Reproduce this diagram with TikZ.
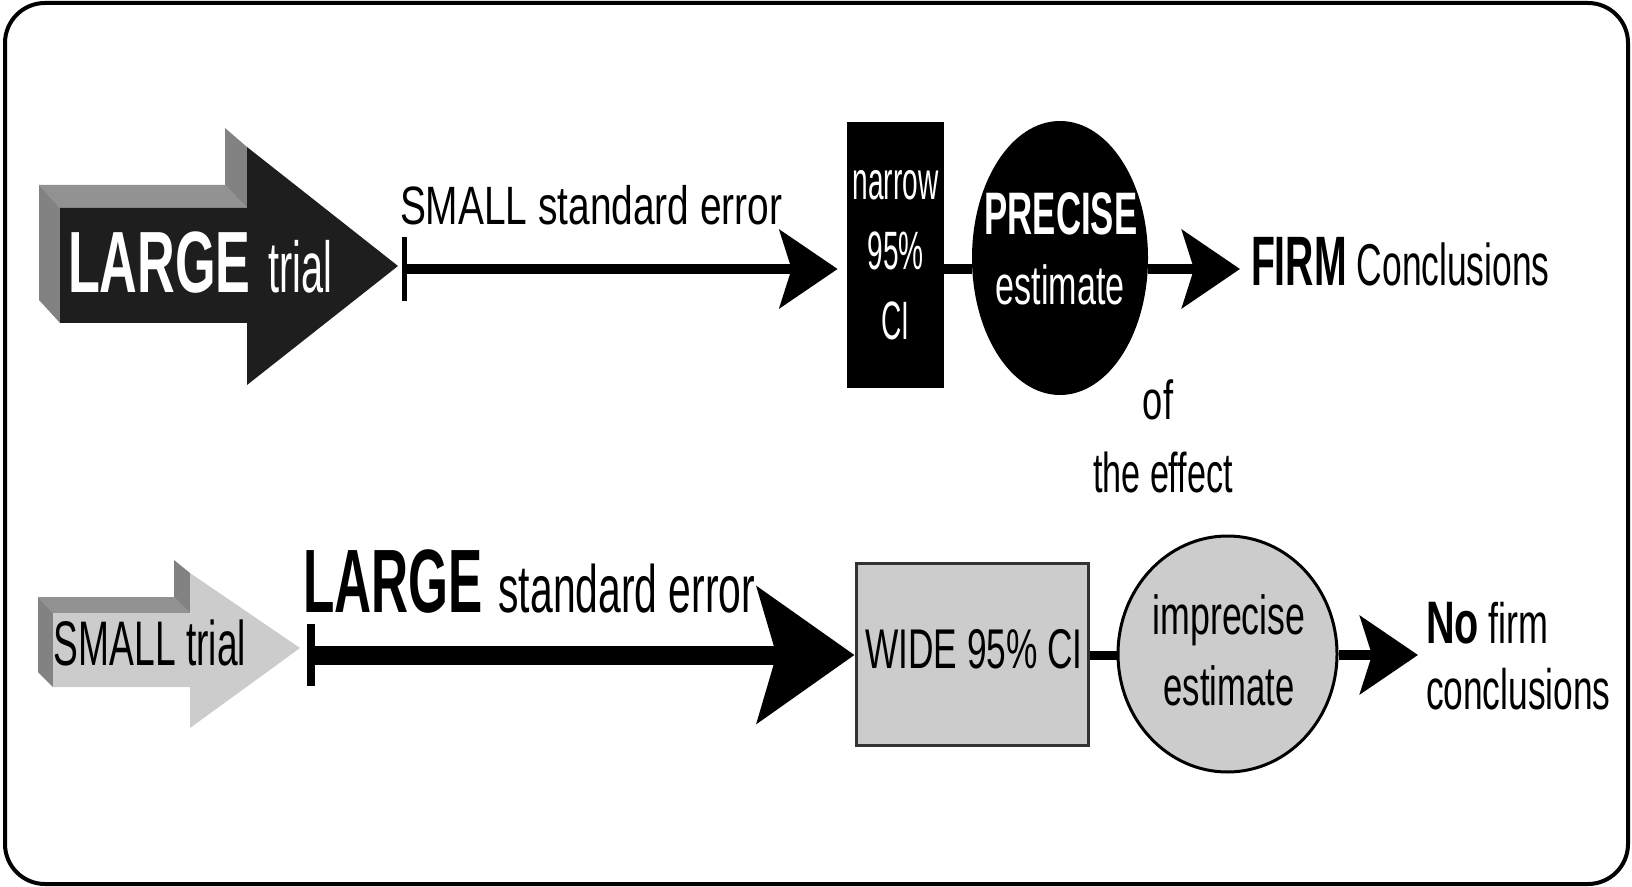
\documentclass[tikz,border=0pt]{standalone}
\usepackage{fontspec}
\usepackage{graphicx}
\setmainfont{Liberation Sans}
\usetikzlibrary{arrows.meta,shapes.geometric,calc}
\newcommand\T[3]{\scalebox{#1}[1]{\fontsize{#2}{#2}\selectfont #3}}
\definecolor{lgrey}{HTML}{CCCCCC}
\definecolor{mgrey}{HTML}{929292}
\definecolor{dgrey}{HTML}{828282}
\definecolor{nearblack}{HTML}{1E1E1E}
\definecolor{boxedge}{HTML}{333333}
\begin{document}
\begin{tikzpicture}[x=0.5pt,y=-0.5pt,
  txt/.style={inner sep=0pt,outer sep=0pt},
  thinbar/.style={line width=5pt},
  bigtip/.style={-{Stealth[length=48.5pt,width=67.5pt,inset=9.5pt]}},
  smalltip/.style={-{Stealth[length=29pt,width=39pt,inset=6pt]}}]
\useasboundingbox (0,0) rectangle (1632,887);
\draw[line width=2pt, rounded corners=20pt] (5,3) rectangle (1628,884);

% LARGE trial arrow (3D)
\fill[mgrey] (39,185) -- (225,185) -- (247,208) -- (60,208) -- cycle;
\fill[dgrey] (39,185) -- (60,208) -- (60,323) -- (39,300) -- cycle;
\fill[dgrey] (225,185) -- (225,128) -- (247,147) -- (247,208) -- cycle;
\fill[nearblack] (60,208) -- (247,208) -- (247,147) -- (398,266) -- (247,385) -- (247,323) -- (60,323) -- cycle;
\node[txt, anchor=base west, text=white] (lt) at (68,293) {\T{0.6}{43.5}{\bfseries LARGE}\hspace{9pt}\T{0.55}{36}{trial}};

% SMALL trial arrow (3D)
\fill[mgrey] (38,597) -- (174,597) -- (190,613) -- (53,613) -- cycle;
\fill[dgrey] (38,597) -- (53,613) -- (53,687) -- (38,672) -- cycle;
\fill[dgrey] (174,597) -- (174,560) -- (190,573) -- (190,613) -- cycle;
\fill[lgrey] (53,613) -- (190,613) -- (190,573) -- (300,648) -- (190,728) -- (190,687) -- (53,687) -- cycle;
\node[txt, anchor=base west] (st) at (54,665) {\T{0.59}{31.5}{SMALL trial}};

% Row 1
\node[txt, anchor=base west] (se1) at (400,225) {\T{0.72}{27}{SMALL standard error}};
\node[rectangle, fill=black, inner sep=0pt, minimum width=48.5pt, minimum height=133pt,
      text=white, align=center, font=\fontsize{27}{35}\selectfont] (b1) at (895.5,255)
      {\T{0.52}{27}{narrow}\\\T{0.52}{27}{95\%}\\\T{0.52}{27}{CI}};
\node[ellipse, fill=black, inner sep=0pt, minimum width=88pt, minimum height=137pt] (e1) at (1060,258) {};
\node[txt, anchor=base, text=white] (e1a) at (1061,235) {\T{0.58}{30}{\bfseries PRECISE}};
\node[txt, anchor=base, text=white] (e1b) at (1060,305) {\T{0.62}{27.5}{estimate}};
\node[txt, anchor=base west] (f1) at (1251,286) {\T{0.56}{35}{\bfseries FIRM}\hspace{5pt}\T{0.6}{29.5}{Conclusions}};
\node[txt, anchor=base] (of) at (1158,419) {\T{0.66}{27.5}{of}};
\node[txt, anchor=base] (eff) at (1163,492) {\T{0.61}{28}{the effect}};

\coordinate (t1) at (404,269);
\draw[line width=2.5pt] ($(t1)+(0,-32)$) -- ($(t1)+(0,32)$);
\draw[thinbar, smalltip] (t1) -- ($(t1 -| b1.west)+(-9,0)$);
\draw[thinbar] (t1 -| b1.east) -- (t1 -| e1.west);
\draw[thinbar, smalltip] (t1 -| e1.east) -- ($(t1 -| f1.west)+(-11,0)$);

% Row 2
\node[txt, anchor=base west] (se2) at (303,612) {\T{0.57}{45}{\bfseries LARGE}\hspace{8pt}\T{0.61}{33.5}{standard error}};
\node[rectangle, fill=lgrey, draw=boxedge, line width=1.5pt, inner sep=0pt,
      minimum width=116pt, minimum height=91pt] (b2) at (972,654) {};
\node[txt, anchor=base] (b2t) at (974,668) {\T{0.63}{28}{WIDE 95\% CI}};
\node[ellipse, fill=lgrey, draw=black, line width=1.5pt, inner sep=0pt,
      minimum width=109.5pt, minimum height=118pt] (c2) at (1227.5,654) {};
\node[txt, anchor=base] (c2a) at (1229,634) {\T{0.65}{27.5}{imprecise}};
\node[txt, anchor=base] (c2b) at (1229,705) {\T{0.63}{27.5}{estimate}};
\node[txt, anchor=base west] (n1) at (1426,643) {\T{0.66}{30}{\bfseries No}\hspace{5pt}\T{0.63}{28.5}{firm}};
\node[txt, anchor=base west] (n2) at (1426,709) {\T{0.62}{28.5}{conclusions}};

\coordinate (t2) at (311,655);
\draw[line width=4pt] ($(t2)+(0,-31)$) -- ($(t2)+(0,31)$);
\draw[line width=9.5pt, bigtip] (t2) -- (t2 -| b2.west);
\draw[line width=4.5pt] (t2 -| b2.east) -- (t2 -| c2.west);
\draw[line width=5pt, smalltip] (t2 -| c2.east) -- ($(t2 -| n1.west)+(-8,0)$);
\end{tikzpicture}
\end{document}
